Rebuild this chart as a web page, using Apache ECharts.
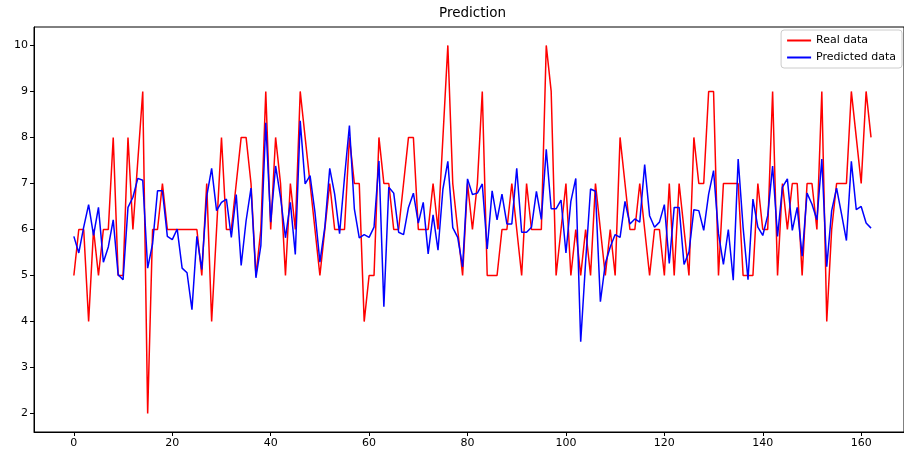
<!DOCTYPE html>
<html>
<head>
<meta charset="utf-8">
<script src="https://cdn.jsdelivr.net/npm/echarts@6/dist/echarts.min.js"></script>
<style>
html,body{margin:0;padding:0;background:#fff;}
#chart{width:904px;height:455px;}
</style>
</head>
<body>
<div id="chart"></div>
<script>
const realData = [
5,6,6,4,6,5,6,6,8,5, 5,8,6,7.5,9,2,6,6,7,6,
6,6,6,6,6,6,5,7,4,6, 8,6,6,7,8,8,7,5,6,9,
6,8,7,5,7,6,9,8,7,6, 5,6,7,6,6,6,8,7,7,4,
5,5,8,7,7,6,6,7,8,8, 6,6,6,7,6,8,10,7,6,5,
7,6,7,9,5,5,5,6,6,7, 6,5,7,6,6,6,10,9,5,6,
7,5,6,5,6,5,7,6,5,6, 5,8,7,6,6,7,6,5,6,6,
5,7,5,7,6,5,8,7,7,9, 9,5,7,7,7,7,5,5,5,7,
6,6,9,5,7,6,7,7,5,7, 7,6,9,4,6,7,7,7,9,8,
7,9,8
];
const predictedData = [
5.85,5.49,6.05,6.54,5.87,6.48,5.29,5.62,6.21,5.02, 4.91,6.48,6.70,7.11,7.07,5.16,5.69,6.84,6.84,5.85,
5.78,6.01,5.16,5.06,4.26,5.85,5.13,6.72,7.33,6.41, 6.59,6.66,5.83,6.76,5.22,6.19,6.90,4.95,5.65,8.32,
6.16,7.38,6.70,5.82,6.59,5.46,8.36,6.99,7.17,6.37, 5.29,6.05,7.33,6.77,5.91,7.13,8.26,6.45,5.82,5.89,
5.83,6.05,7.49,4.32,6.92,6.79,5.94,5.89,6.48,6.79, 6.14,6.59,5.47,6.32,5.55,6.88,7.48,6.04,5.83,5.19,
7.10,6.76,6.79,6.99,5.58,6.84,6.21,6.77,6.12,6.12, 7.33,5.94,5.94,6.05,6.83,6.22,7.74,6.45,6.45,6.64,
5.49,6.61,7.11,3.56,5.30,6.88,6.83,4.43,5.26,5.62, 5.89,5.83,6.61,6.12,6.23,6.16,7.41,6.30,6.05,6.16,
6.54,5.26,6.48,6.48,5.24,5.51,6.43,6.41,5.98,6.77, 7.28,5.91,5.24,6.00,4.90,7.53,6.05,4.91,6.66,6.05,
5.87,6.30,7.38,5.85,6.92,7.10,5.98,6.48,5.42,6.79, 6.55,6.21,7.53,5.19,6.41,6.90,6.34,5.76,7.48,6.43,
6.50,6.14,6.03
];
const xTicks = [0,20,40,60,80,100,120,140,160];
const yTicks = [2,3,4,5,6,7,8,9,10];
const seriesNames = ['Real data','Predicted data'];

const toPairs = arr => arr.map((v,i)=>[i,v]);
const font = 'DejaVu Sans';

const chart = echarts.init(document.getElementById('chart'), null, {renderer:'canvas'});
chart.setOption({
  animation: false,
  backgroundColor: '#fff',
  title: {
    text: 'Prediction',
    left: 439, top: 6, padding: 0,
    textStyle: {fontFamily: font, fontSize: 13.5, fontWeight: 'normal', color: '#000'}
  },
  legend: {
    data: seriesNames,
    orient: 'vertical',
    right: 2, top: 30,
    icon: 'rect',
    itemWidth: 24, itemHeight: 2,
    itemGap: 4,
    padding: [4, 6, 4, 6],
    backgroundColor: 'rgba(255,255,255,0.8)',
    borderColor: '#cccccc', borderWidth: 1, borderRadius: 3,
    textStyle: {fontFamily: font, fontSize: 11, color: '#000', lineHeight: 13}
  },
  grid: {
    left: 34, top: 27, right: 0, bottom: 23,
    show: true, borderColor: '#000', borderWidth: 1, backgroundColor: 'transparent'
  },
  xAxis: {
    type: 'value', min: -8.1, max: 168.7,
    splitLine: {show: false},
    axisLine: {show: true, onZero: false, lineStyle: {color: '#000', width: 1}},
    axisTick: {show: true, inside: false, length: 4, lineStyle: {color: '#000'}, customValues: xTicks},
    axisLabel: {fontFamily: font, fontSize: 11, color: '#000', margin: 6, customValues: xTicks}
  },
  yAxis: {
    type: 'value', min: 1.6, max: 10.4,
    splitLine: {show: false},
    axisLine: {show: true, onZero: false, lineStyle: {color: '#000', width: 1}},
    axisTick: {show: true, inside: false, length: 4, lineStyle: {color: '#000'}, customValues: yTicks},
    axisLabel: {fontFamily: font, fontSize: 11, color: '#000', margin: 6, customValues: yTicks}
  },
  series: [
    {name: seriesNames[0], type: 'line', data: toPairs(realData), showSymbol: false, symbol: 'none',
     lineStyle: {color: '#ff0000', width: 1.5}, itemStyle: {color: '#ff0000'}, z: 2},
    {name: seriesNames[1], type: 'line', data: toPairs(predictedData), showSymbol: false, symbol: 'none',
     lineStyle: {color: '#0000ff', width: 1.5}, itemStyle: {color: '#0000ff'}, z: 3}
  ]
});
</script>
</body>
</html>
